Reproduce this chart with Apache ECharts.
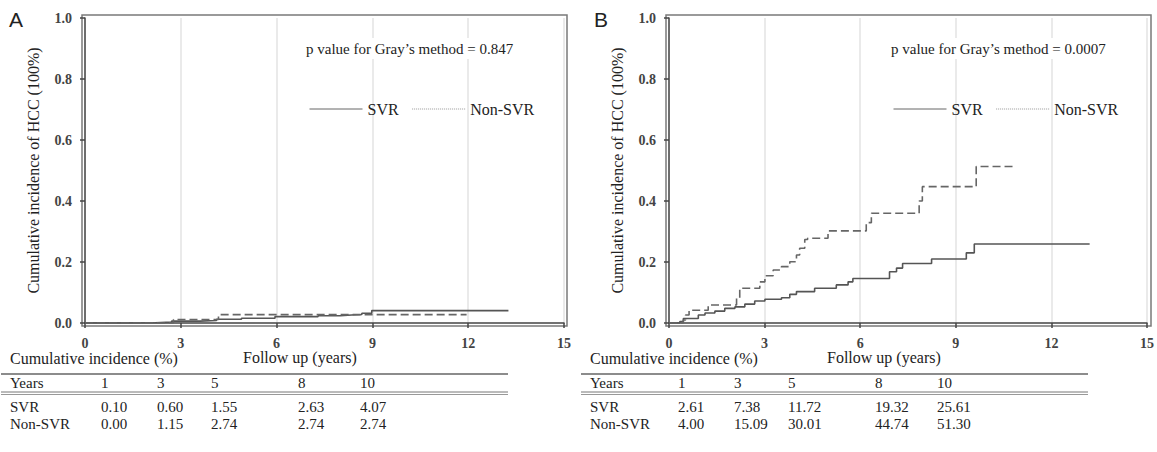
<!DOCTYPE html>
<html><head><meta charset="utf-8">
<script src="https://cdn.jsdelivr.net/npm/echarts@6/dist/echarts.min.js"></script>
<style>html,body{margin:0;padding:0;background:#fff}#c{width:1157px;height:452px}</style>
</head><body><div id="c"></div>
<script>
// ---------- data ----------
const seriesNames = ['SVR', 'Non-SVR'];
const panelLetters = ['A', 'B'];
const pValueTexts = ['p value for Gray\u2019s method = 0.847', 'p value for Gray\u2019s method = 0.0007'];
const yAxisName = 'Cumulative incidence of HCC (100%)';
const xAxisName = 'Follow up (years)';
const tableTitle = 'Cumulative incidence (%)';
const rowLabels = ['Years', 'SVR', 'Non-SVR'];

// Panel A step curves [years, cumulative incidence]
const svrA = [[0,0],[1.04,0.001],[2.2,0.003],[2.71,0.006],[3.6,0.008],[4.12,0.0125],[4.9,0.0155],[5.95,0.021],[7.3,0.024],[8.0,0.0263],[8.35,0.028],[8.67,0.032],[8.98,0.0407],[13.26,0.0407]];
const nonSvrA = [[0,0],[2.77,0.0115],[4.18,0.0274],[11.95,0.0274]];
// Panel B step curves
const svrB = [[0,0],[0.34,0.005],[0.45,0.015],[0.92,0.026],[1.13,0.033],[1.44,0.039],[1.75,0.048],[2.07,0.053],[2.38,0.062],[2.69,0.072],[3.01,0.078],[3.53,0.083],[3.79,0.094],[4.0,0.103],[4.57,0.114],[5.25,0.125],[5.62,0.135],[5.77,0.146],[6.92,0.168],[7.14,0.18],[7.33,0.195],[8.24,0.21],[9.33,0.23],[9.58,0.259],[13.2,0.259]];
const nonSvrB = [[0,0],[0.45,0.01],[0.52,0.026],[0.63,0.042],[1.23,0.059],[2.12,0.081],[2.22,0.114],[2.85,0.135],[3.01,0.155],[3.27,0.174],[3.53,0.185],[3.79,0.201],[4.0,0.223],[4.1,0.245],[4.26,0.274],[4.35,0.278],[4.99,0.302],[6.19,0.329],[6.35,0.36],[7.85,0.40],[7.95,0.447],[9.64,0.513],[10.78,0.513]];

// Tables
const tableYears = ['1', '3', '5', '8', '10'];
const tableSvrA = ['0.10', '0.60', '1.55', '2.63', '4.07'];
const tableNonSvrA = ['0.00', '1.15', '2.74', '2.74', '2.74'];
const tableSvrB = ['2.61', '7.38', '11.72', '19.32', '25.61'];
const tableNonSvrB = ['4.00', '15.09', '30.01', '44.74', '51.30'];

// ---------- chart ----------
const SERIF = 'Liberation Serif';
const SANS = 'Liberation Sans';
const chart = echarts.init(document.getElementById('c'), null, {renderer: 'svg'});

const panels = [
  {outerLeft: 82, innerLeft: 85, tableX: 0, legendLeft: 304, pLeft: 302, letterX: 9,
   svr: svrA, non: nonSvrA, tSvr: tableSvrA, tNon: tableNonSvrA},
  {outerLeft: 666, innerLeft: 669, tableX: 580, legendLeft: 888, pLeft: 887, letterX: 594,
   svr: svrB, non: nonSvrB, tSvr: tableSvrB, tNon: tableNonSvrB}
];

const grid = [], xAxis = [], yAxis = [], series = [], legend = [], title = [], graphic = [];
const colX = [101, 157, 211, 298, 360];

panels.forEach((p, i) => {
  grid.push({left: p.outerLeft, top: 15, width: 485, height: 311, show: true,
             borderColor: '#7a7a7a', borderWidth: 1.5, backgroundColor: 'transparent'});
  grid.push({left: p.innerLeft, top: 18, width: 479, height: 305});
  const go = i * 2, gi = i * 2 + 1;
  xAxis.push({gridIndex: go, type: 'value', min: -0.1, max: 15.1, show: false});
  yAxis.push({gridIndex: go, type: 'value', min: -0.01, max: 1.01, show: false});
  xAxis.push({gridIndex: gi, type: 'value', min: 0, max: 15, interval: 3, offset: 3,
    axisLine: {show: true, lineStyle: {color: '#444', width: 1.5}},
    axisTick: {show: true, length: 5, lineStyle: {color: '#444', width: 1.5}},
    axisLabel: {margin: 10, color: '#444', fontFamily: SERIF, fontSize: 14, fontWeight: 'bold'},
    splitLine: {show: true, lineStyle: {color: '#e3e3e3', width: 1.5}}});
  yAxis.push({gridIndex: gi, type: 'value', min: 0, max: 1, interval: 0.2, offset: 3,
    name: yAxisName, nameLocation: 'middle', nameGap: 41,
    nameTextStyle: {fontFamily: SERIF, fontSize: 16, color: '#222'},
    axisLine: {show: true, lineStyle: {color: '#444', width: 1.5}},
    axisTick: {show: true, length: 5, lineStyle: {color: '#444', width: 1.5}},
    axisLabel: {margin: 10, color: '#444', fontFamily: SERIF, fontSize: 14, fontWeight: 'bold',
                formatter: v => v.toFixed(1)},
    splitLine: {show: false}});
  series.push({name: seriesNames[0], type: 'line', step: 'end', xAxisIndex: gi, yAxisIndex: gi,
    data: p.svr, symbol: 'none', itemStyle: {color: '#555'},
    lineStyle: {color: '#555', width: 1.6, type: 'solid'}, z: 3});
  series.push({name: seriesNames[1], type: 'line', step: 'end', xAxisIndex: gi, yAxisIndex: gi,
    data: p.non, symbol: 'none', itemStyle: {color: '#666'},
    lineStyle: {color: '#666', width: 1.6, type: [8, 4]}, z: 3});
  legend.push({left: p.legendLeft, top: 96, itemWidth: 53, itemHeight: 14, itemGap: 13,
    selectedMode: false,
    textStyle: {fontFamily: SERIF, fontSize: 16, color: '#222'},
    data: [
      {name: seriesNames[0], itemStyle: {opacity: 0}, lineStyle: {color: '#666', width: 1, type: 'solid'}},
      {name: seriesNames[1], itemStyle: {opacity: 0}, lineStyle: {color: '#999', width: 1, type: 'dotted'}}
    ]});
  title.push({text: pValueTexts[i], left: p.pLeft, top: 38, padding: [3, 4], backgroundColor: '#fff',
    textStyle: {fontFamily: SERIF, fontSize: 15, fontWeight: 'normal', color: '#222'}});
  title.push({text: panelLetters[i], left: p.letterX, top: 9, padding: 0,
    textStyle: {fontFamily: SANS, fontSize: 21, fontWeight: 'normal', color: '#222'}});

  // table and texts under the plot
  const tx = p.tableX;
  const txt = (s, x, y, size) => ({type: 'text', x: x, y: y, silent: true,
    style: {text: s, font: (size || 15) + 'px "Liberation Serif"', fill: '#222', verticalAlign: 'middle', align: 'left'}});
  graphic.push(txt(tableTitle, tx + 10, 358, 16));
  graphic.push(txt(xAxisName, p.innerLeft + 158, 357, 16));
  graphic.push({type: 'line', silent: true, shape: {x1: tx + 1, y1: 374, x2: tx + 508, y2: 374},
    style: {stroke: '#666', lineWidth: 1.5}});
  graphic.push({type: 'line', silent: true, shape: {x1: tx + 1, y1: 392, x2: tx + 508, y2: 392},
    style: {stroke: '#777', lineWidth: 1}});
  graphic.push({type: 'line', silent: true, shape: {x1: tx + 1, y1: 394.5, x2: tx + 508, y2: 394.5},
    style: {stroke: '#999', lineWidth: 1}});
  const rowsY = [383, 407, 424];
  const rows = [tableYears, p.tSvr, p.tNon];
  rows.forEach((r, ri) => {
    graphic.push(txt(rowLabels[ri], tx + 10, rowsY[ri]));
    r.forEach((v, ci) => graphic.push(txt(v, tx + colX[ci] - (i ? 3 : 0), rowsY[ri])));
  });
});

chart.setOption({
  animation: false,
  backgroundColor: '#fff',
  grid, xAxis, yAxis, series, legend, title, graphic
});
</script>
</body></html>
